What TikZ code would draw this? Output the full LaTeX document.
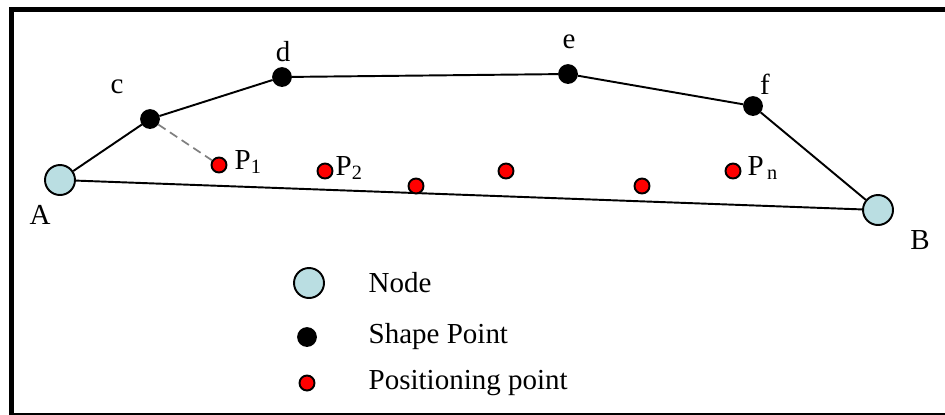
\documentclass[tikz,border=0pt]{standalone}
\usepackage{fontspec}
\setmainfont{Liberation Serif}
\definecolor{nodeblue}{RGB}{186,222,226}

\begin{document}
\begin{tikzpicture}[
  x=0.02cm, y=-0.02cm,
  line width=1.1pt,
  junction/.style={circle, draw, line width=1.1pt, fill=nodeblue, minimum size=30*0.02cm, inner sep=0pt},
  shapept/.style={circle, draw, line width=1pt, fill=black, minimum size=18*0.02cm, inner sep=0pt},
  pospt/.style={circle, draw, line width=1.1pt, fill=red, minimum size=15*0.02cm, inner sep=0pt},
  lbl/.style={font=\fontsize{16.5}{18}\selectfont, inner sep=1pt}
]
  \useasboundingbox (0,0) rectangle (945,414);
  \draw[line width=2.85pt] (11.5,416) -- (11.5,9.5) -- (960,9.5);
  \draw[line width=1pt] (11.5,414) -- (960,414);

  % road nodes and shape points
  \node[junction] (A) at (60,180) {};
  \node[junction] (B) at (878,210) {};
  \node[shapept] (c) at (150,119) {};
  \node[shapept] (d) at (282,77) {};
  \node[shapept] (e) at (568,74) {};
  \node[shapept] (f) at (753,106) {};

  \draw (A) -- (c) -- (d) -- (e) -- (f) -- (B);
  \draw (A) -- (B);

  % positioning points
  \node[pospt] (p1) at (219,165) {};
  \node[pospt] (p2) at (325,171) {};
  \node[pospt] (p3) at (416,186) {};
  \node[pospt] (p4) at (506,171) {};
  \node[pospt] (p5) at (642,186) {};
  \node[pospt] (pn) at (733,171) {};

  \draw[dashed, gray, line width=1pt, dash pattern=on 5pt off 3pt] (c) -- (p1);

  % labels
  \node[lbl] (lA) at (40,215) {A};
  \node[lbl] (lB) at (920,240) {B};
  \node[lbl] (lc) at (117,87) {c};
  \node[lbl] (ld) at (283,52) {d};
  \node[lbl] (le) at (569,42) {e};
  \node[lbl] (lf) at (765,84) {f};
  \node[lbl, anchor=west] (lp1) at (232,162) {P\textsubscript{1}};
  \node[lbl, anchor=west] (lp2) at (333,168) {P\textsubscript{2}};
  \node[lbl, anchor=west] (lpn) at (745,168) {P\textsubscript{\,n}};

  % legend
  \node[junction] (kjunction) at (309,283) {};
  \node[shapept] (kshape) at (307,337) {};
  \node[pospt] (kpos) at (307,383) {};
  \node[lbl, anchor=west] (tjunction) at (366,283) {Node};
  \node[lbl, anchor=west] (tshape) at (366,337) {Shape Point};
  \node[lbl, anchor=west] (tpos) at (366,383) {Positioning point};
\end{tikzpicture}
\end{document}
